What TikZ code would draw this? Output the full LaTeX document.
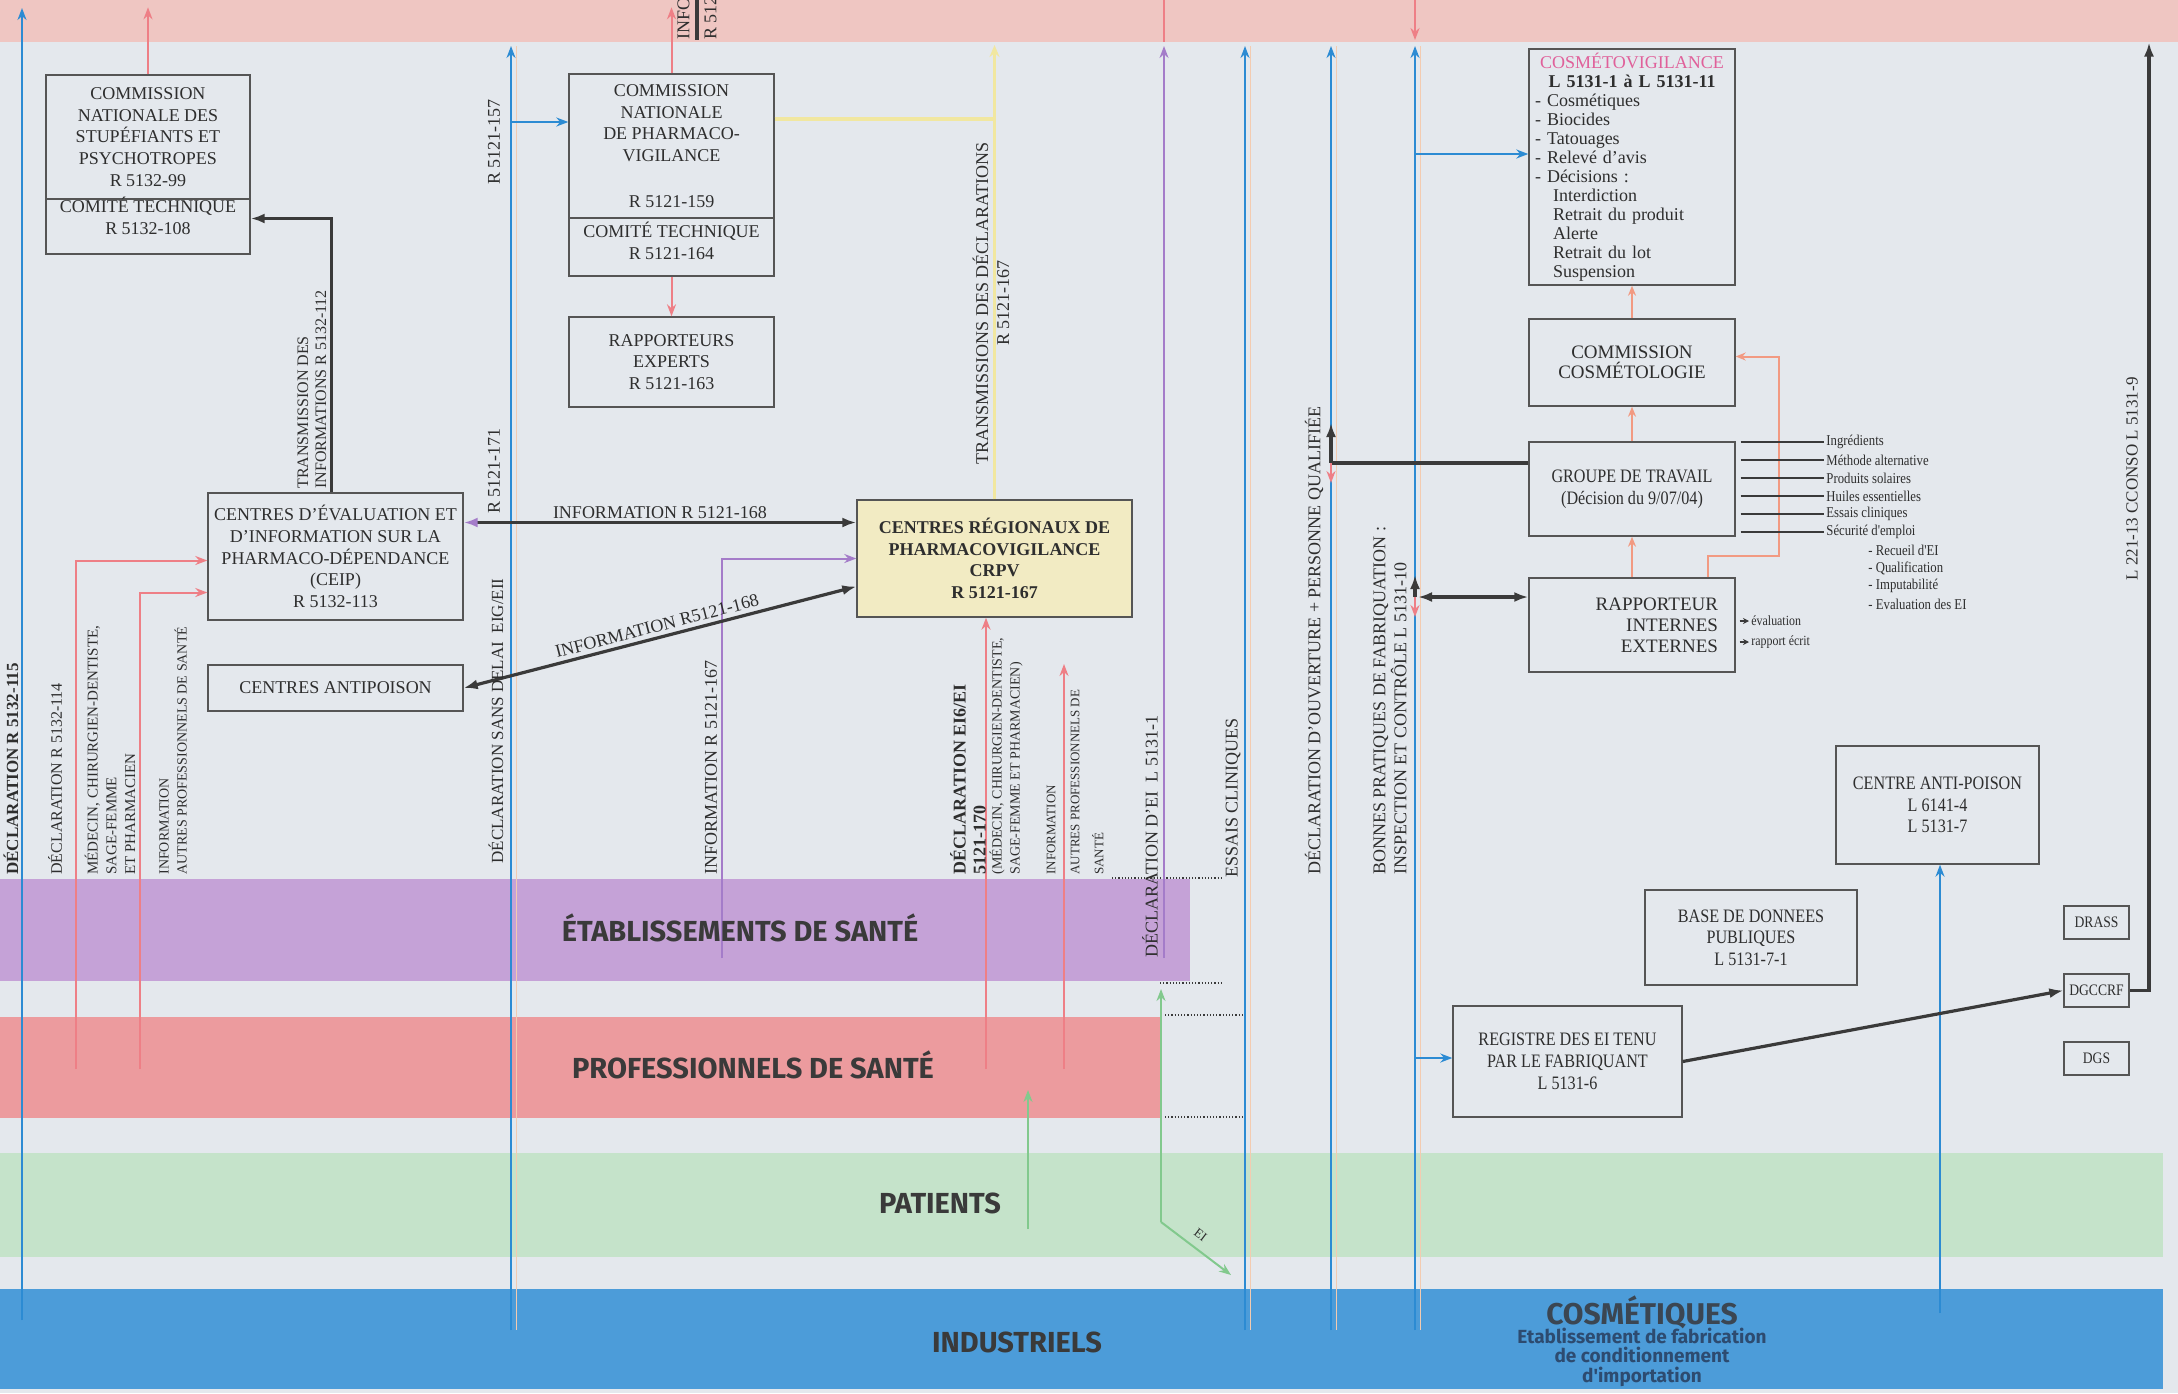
\documentclass[tikz,border=0pt]{standalone}
\usepackage{fontspec}
\setmainfont{Liberation Serif}
\newfontfamily\etroit[FakeStretch=0.85]{Liberation Serif}
\newfontfamily\bandefont{Fira Sans}
\usetikzlibrary{arrows.meta,positioning}

\definecolor{fond}{HTML}{E4E8ED}
\definecolor{rosehaut}{HTML}{EFC6C2}
\definecolor{bviolet}{HTML}{C5A2D7}
\definecolor{brouge}{HTML}{EC9B9E}
\definecolor{bvert}{HTML}{C5E3CA}
\definecolor{bbleu}{HTML}{4C9CD9}
\definecolor{cbleu}{HTML}{2C8BD3}
\definecolor{crouge}{HTML}{EE7F86}
\definecolor{corange}{HTML}{F29A82}
\definecolor{corpale}{HTML}{F3CBB0}
\definecolor{cviolet}{HTML}{A47CC9}
\definecolor{cvert}{HTML}{82C98D}
\definecolor{cjaune}{HTML}{F1E7A0}
\definecolor{cnoir}{HTML}{3A3A3A}
\definecolor{cgris}{HTML}{555555}
\definecolor{ctexte}{HTML}{2E2E2E}
\definecolor{cbande}{HTML}{3A3A3A}
\definecolor{jaunebox}{HTML}{F2EBC3}
\definecolor{crose}{HTML}{E0609A}
\definecolor{cosmtxt}{HTML}{3B4652}
\definecolor{cosmsub}{HTML}{2D4B70}

\newcommand{\taille}[2]{\fontsize{#1}{#2}\selectfont}

\tikzset{
	boite/.style={draw=cgris, line width=0.7pt, align=center, inner sep=0pt, text=ctexte, font=\taille{9}{10.8}},
	texte/.style={align=center, inner sep=0pt, text=ctexte, font=\taille{9}{10.8}},
	vlabel/.style={rotate=90, anchor=west, inner sep=0pt, align=left, text=ctexte},
	bande/.style={font=\bandefont\bfseries\taille{14.5}{16}, text=cbande, inner sep=0pt},
	liste/.style={font=\etroit\taille{7.5}{9}, text=ctexte, inner sep=1pt},
	fbleu/.style={draw=cbleu, line width=1pt, -{Stealth[length=6pt,width=4.5pt]}},
	frouge/.style={draw=crouge, line width=1pt, -{Stealth[length=6pt,width=4.5pt]}},
	forange/.style={draw=corange, line width=1pt, -{Stealth[length=5pt,width=4pt]}},
	fviolet/.style={draw=cviolet, line width=1pt, -{Stealth[length=6pt,width=4.5pt]}},
	fvert/.style={draw=cvert, line width=1pt, -{Stealth[length=6pt,width=4.5pt]}},
	fjaune/.style={draw=cjaune, line width=1.6pt, -{Stealth[length=6pt,width=5pt]}},
	fnoir/.style={draw=cnoir, line width=1.6pt, -{Latex[length=7pt,width=5pt]}},
	dnoir/.style={fnoir, {Latex[length=7pt,width=5pt]}-{Latex[length=7pt,width=5pt]}},
	tnoir/.style={draw=cnoir, line width=1.6pt},
	fin/.style={draw=cnoir, line width=0.6pt},
	pointille/.style={draw=cnoir, line width=0.6pt, densely dotted},
}

\begin{document}
\begin{tikzpicture}[x=0.5pt, y=-0.5pt]
	\useasboundingbox (0,0) rectangle (2178,1393);
	\clip (0,0) rectangle (2178,1393);

	% fond et bandes
	\fill[fond] (0,0) rectangle (2178,1393);
	\fill[rosehaut] (0,0) rectangle (2178,42);
	\fill[bviolet] (0,879) rectangle (1190,981);
	\fill[brouge] (0,1017) rectangle (1160,1118);
	\fill[bvert] (0,1153) rectangle (2163,1257);
	\fill[bbleu] (0,1289) rectangle (2163,1389);

	\foreach \y/\a/\b in {878/1112/1222, 983/1160/1222, 1015/1165/1245, 1117/1165/1245}
	{
		\draw[pointille] (\a,\y) -- (\b,\y);
	};

	% boites
	\node[boite, minimum width=102pt, minimum height=62pt] (cnsp) at (148,137) {COMMISSION\\NATIONALE DES\\STUPÉFIANTS ET\\PSYCHOTROPES\\R 5132-99};
	\node[boite, minimum width=102pt, minimum height=27.5pt] (cnspct) at (148,226.5) {};
	\node[texte] (cnspctt) at (148,216) {COMITÉ TECHNIQUE\\R 5132-108};

	\node[boite, minimum width=102.5pt, minimum height=72pt] (cnpv) at (671.5,146) {COMMISSION\\NATIONALE\\DE PHARMACO-\\VIGILANCE\\[12pt]R 5121-159};
	\node[boite, minimum width=102.5pt, minimum height=29pt] (cnpvct) at (671.5,247) {};
	\node[texte] (cnpvctt) at (671.5,241) {COMITÉ TECHNIQUE\\R 5121-164};
	\node[boite, minimum width=102.5pt, minimum height=45pt] (rapexp) at (671.5,362) {RAPPORTEURS\\EXPERTS\\R 5121-163};

	\node[boite, minimum width=127.5pt, minimum height=63.5pt] (ceip) at (335.5,556.5) {CENTRES D'ÉVALUATION ET\\D'INFORMATION SUR LA\\PHARMACO-DÉPENDANCE\\(CEIP)\\R 5132-113};
	\node[boite, minimum width=127.5pt, minimum height=23pt] (antipoison) at (335.5,688) {CENTRES ANTIPOISON};
	\node[boite, fill=jaunebox, minimum width=137.5pt, minimum height=58.5pt, font=\bfseries\taille{9}{10.8}] (crpv) at (994.5,558.5) {CENTRES RÉGIONAUX DE\\PHARMACOVIGILANCE\\CRPV\\R 5121-167};

	\node[boite, minimum width=103pt, minimum height=118pt, text width=97pt, align=left, font=\taille{9}{9.5}] (cosmeto) at (1632,167) {%
		\makebox[97pt][c]{\color{crose}COSMÉTOVIGILANCE}\\
		\makebox[97pt][c]{\textbf{L 5131-1 à L 5131-11}}\\
		- Cosmétiques\\
		- Biocides\\
		- Tatouages\\
		- Relevé d'avis\\
		- Décisions :\\
		\hspace*{9pt}Interdiction\\
		\hspace*{9pt}Retrait du produit\\
		\hspace*{9pt}Alerte\\
		\hspace*{9pt}Retrait du lot\\
		\hspace*{9pt}Suspension};
	\node[boite, minimum width=103pt, minimum height=43.5pt, font=\taille{9.5}{10}] (commcos) at (1632,362.5) {COMMISSION\\COSMÉTOLOGIE};
	\node[boite, minimum width=103pt, minimum height=47pt, font=\etroit\taille{9.5}{11}] (groupe) at (1632,489) {GROUPE DE TRAVAIL\\(Décision du 9/07/04)};
	\node[boite, minimum width=103pt, minimum height=47pt, text width=86pt, align=right, font=\taille{9.5}{10.5}] (rapint) at (1632,625) {RAPPORTEUR\hspace*{10pt}\\INTERNES\\EXTERNES};

	\node[boite, minimum width=101.5pt, minimum height=59pt, font=\etroit\taille{9.5}{10.8}] (antipois2) at (1937.5,805) {CENTRE ANTI-POISON\\L 6141-4\\L 5131-7};
	\node[boite, minimum width=106pt, minimum height=47.5pt, font=\etroit\taille{9.5}{10.8}] (bdd) at (1751,937.5) {BASE DE DONNEES\\PUBLIQUES\\L 5131-7-1};
	\node[boite, minimum width=114.5pt, minimum height=55.5pt, font=\etroit\taille{9.5}{11}] (registre) at (1567.5,1061.5) {REGISTRE DES EI TENU\\PAR LE FABRIQUANT\\L 5131-6};

	\foreach \nom/\y/\txt in {drass/922.5/DRASS, dgccrf/990.5/DGCCRF, dgs/1058.5/DGS}
	{
		\node[boite, minimum width=32.5pt, minimum height=16.5pt, font=\etroit\taille{8}{9}] (\nom) at (2096.5,\y) {\txt};
	};

	% lignes bleues
	\coordinate (b1) at (22,1320);
	\coordinate (h1) at (22,8);
	\draw[fbleu] (b1) -- (h1);
	\foreach \i/\x in {2/511, 3/1245, 4/1331, 5/1415}
	{
		\coordinate (b\i) at (\x,1330);
		\coordinate (h\i) at (\x,46);
		\draw[corpale, line width=0.5pt] (\x+5,46) -- (\x+5,1330);
		\draw[fbleu] (b\i) -- (h\i);
	};
	\coordinate (k2) at (511,122);
	\draw[fbleu] (k2) -- (k2 -| cnpv.west);
	\coordinate (k5a) at (1415,154);
	\draw[fbleu] (k5a) -- (k5a -| cosmeto.west);
	\coordinate (k5b) at (1415,1058);
	\draw[fbleu] (k5b) -- (k5b -| registre.west);
	\coordinate (b6) at (1940,1313);
	\draw[fbleu] (b6) -- (b6 |- antipois2.south);

	% lignes rouges
	\draw[frouge] (cnsp.north) -- ++(0,-67);
	\draw[frouge] (cnpv.north) -- ++(0,-66);
	\draw[frouge] (cnpvct.south) -- (rapexp.north);
	\draw[crouge, line width=1pt] (1164,0) -- (1164,42);
	\draw[frouge] (1415,0) -- (1415,40);
	\coordinate (r1) at (76,1069);
	\draw[frouge] (r1) |- ([yshift=-2pt]ceip.west);
	\coordinate (r2) at (140,1069);
	\draw[frouge] (r2) |- ([yshift=-18pt]ceip.west);
	\coordinate (r3) at (986,1069);
	\draw[frouge] (r3) -- (r3 |- crpv.south);
	\coordinate (r4) at (1064,1069);
	\coordinate (r4h) at (1064,664);
	\draw[frouge] (r4) -- (r4h);

	% cosmetologie
	\draw[forange] (commcos.north) -- (cosmeto.south);
	\draw[forange] (groupe.north) -- (commcos.south);
	\draw[forange] (rapint.north) -- (groupe.south);
	\coordinate (o1) at (1779,556);
	\draw[forange] ([xshift=38pt]rapint.north) |- (o1) |- ([yshift=3pt]commcos.east);

	% violet, vert, jaune
	\coordinate (v1) at (722,958);
	\draw[fviolet] (v1) |- (crpv.west);
	\coordinate (v2) at (1164,958);
	\coordinate (v2h) at (1164,46);
	\draw[fviolet] (v2) -- (v2h);
	\coordinate (e1) at (1028,1229);
	\draw[fvert] (e1) -- ++(0,-139);
	\coordinate (e2) at (1161,1222);
	\draw[fvert] (e2) -- ++(0,-233);
	\draw[fvert] (e2) -- ++(70,53) node[pos=0.45, sloped, above=4pt, font=\taille{6.5}{7}, text=ctexte, inner sep=0pt] (ei) {EI};
	\coordinate (j1) at ([yshift=13.5pt]cnpv.east);
	\draw[cjaune, line width=1.6pt] (j1) -- (j1 -| crpv.north);
	\draw[fjaune] (crpv.north) -- (crpv.north |- 0,45);

	% fleches noires
	\draw[fnoir] ([xshift=-2pt]ceip.north) |- ([yshift=4pt]cnspct.east);
	\coordinate (i1) at ([yshift=17pt]ceip.east);
	\draw[fnoir, {Latex[length=7pt,width=5pt,color=cviolet]}-{Latex[length=7pt,width=5pt]}] (i1) -- (i1 -| crpv.west)
		node[midway, above=1pt, font=\taille{9}{10}, text=ctexte, inner sep=0pt] (inf1) {INFORMATION R 5121-168};
	\draw[dnoir] (antipoison.east) -- ([yshift=-14pt]crpv.west)
		node[midway, sloped, above=2pt, font=\taille{9}{10}, text=ctexte, inner sep=0pt] (inf2) {INFORMATION R5121-168};
	\coordinate (g1) at (1331,463);
	\draw[tnoir] ([yshift=13pt]groupe.west) -- (g1);
	\draw[fnoir] (g1) -- ++(0,-40);
	\draw[frouge] (g1) -- ++(0,20);
	\coordinate (g2) at (1418,597);
	\draw[dnoir] (g2) -- (g2 -| rapint.west);
	\draw[fnoir] (1415,597) -- ++(0,-22);
	\draw[frouge] (1415,597) -- ++(0,20);
	\draw[fnoir] (registre.east) -- (dgccrf.west);
	\coordinate (d1) at (2149,990.5);
	\draw[fnoir] (dgccrf.east) -- (d1) -- ++(0,-948);
	\draw[tnoir] (697,0) -- (697,40);

	% liste du groupe de travail
	\foreach \y/\txt [count=\i] in {442/Ingrédients, 460/Méthode alternative, 478/Produits solaires, 496/Huiles essentielles, 514/Essais cliniques, 532/Sécurité d'emploi}
	{
		\node[liste, anchor=west] (l\i) at (1824,\y) {\txt};
		\draw[fin] (groupe.east |- l\i.west) ++(5,0) -- (l\i.west);
	};
	\foreach \y/\txt [count=\i] in {550/Recueil d'EI, 568/Qualification, 586/Imputabilité, 604/Evaluation des EI}
	{
		\node[liste, anchor=west] (s\i) at (1866,\y) {- \txt};
	};
	\node[liste, anchor=west, font=\etroit\taille{7}{8}] (eval) at (1749,621) {évaluation};
	\node[liste, anchor=west, font=\etroit\taille{7}{8}] (rapp) at (1749,642) {rapport écrit};
	\draw[fin, -{Stealth[length=3pt,width=3pt]}] (rapint.east |- eval.west) ++(4,0) -- (eval.west);
	\draw[fin, -{Stealth[length=3pt,width=3pt]}] (rapint.east |- rapp.west) ++(4,0) -- (rapp.west);

	% textes verticaux
	\node[vlabel, font=\bfseries\taille{8.5}{10}] (lab1) at (11,875) {DÉCLARATION R 5132-115};
	\node[vlabel, font=\taille{8}{9}] (lab2) at (55,875) {DÉCLARATION R 5132-114};
	\node[vlabel, font=\taille{7.5}{9.4}] (lab3) at (110,875) {MÉDECIN, CHIRURGIEN-DENTISTE,\\SAGE-FEMME\\ET PHARMACIEN};
	\node[vlabel, font=\taille{7}{9}] (lab4) at (173,875) {INFORMATION\\AUTRES PROFESSIONNELS DE SANTÉ};
	\node[vlabel, font=\taille{8}{9}] (lab5) at (312,489) {TRANSMISSION DES\\INFORMATIONS R 5132-112};
	\node[vlabel, font=\taille{9}{10}] (lab6) at (494,185) {R 5121-157};
	\node[vlabel, font=\taille{9}{10}] (lab7) at (494,514) {R 5121-171};
	\node[vlabel, font=\taille{8.5}{10}] (lab8) at (496,864) {DÉCLARATION SANS DELAI\enspace EIG/EII};
	\node[vlabel, font=\taille{9}{10}] (lab9) at (711,875) {INFORMATION R 5121-167};
	\node[vlabel, anchor=center, align=center, font=\taille{9}{10.5}] (lab10) at (991,303) {TRANSMISSIONS DES DÉCLARATIONS\\R 5121-167};
	\node[vlabel, font=\bfseries\taille{9}{10}] (lab11) at (968,875) {DÉCLARATION EI6/EI\\5121-170};
	\node[vlabel, font=\taille{7}{9}] (lab12) at (1006,875) {(MÉDECIN, CHIRURGIEN-DENTISTE,\\SAGE-FEMME ET PHARMACIEN)};
	\node[vlabel, font=\taille{6.5}{12}] (lab13) at (1075,875) {INFORMATION\\AUTRES PROFESSIONNELS DE\\SANTÉ};
	\node[vlabel, font=\taille{9}{10}] (lab14) at (1150,958) {DÉCLARATION D'EI\enspace L 5131-1};
	\node[vlabel, font=\taille{9}{10}] (lab15) at (1233,878) {ESSAIS CLINIQUES};
	\node[vlabel, font=\taille{9}{10}] (lab16) at (1314,875) {DÉCLARATION D'OUVERTURE + PERSONNE QUALIFIÉE};
	\node[vlabel, font=\taille{9}{10.5}] (lab17) at (1390,875) {BONNES PRATIQUES DE FABRIQUATION :\\INSPECTION ET CONTRÔLE L 5131-10};
	\node[vlabel, anchor=center, font=\taille{8.5}{10}] (lab18) at (2132,479) {L 221-13 CCONSO L 5131-9};
	\node[vlabel, font=\taille{9}{13.5}] (lab19) at (697,40) {INFORMATION\\R 5121};

	% noms des bandes
	\node[bande] (etab) at (740,928) {ÉTABLISSEMENTS DE SANTÉ};
	\node[bande] (prof) at (753,1065) {PROFESSIONNELS DE SANTÉ};
	\node[bande] (pat) at (940,1203) {PATIENTS};
	\node[bande] (indus) at (1017,1342) {INDUSTRIELS};
	\node[bande, font=\bandefont\bfseries\taille{15}{16}, text=cosmtxt] (cosm) at (1642,1312) {COSMÉTIQUES};
	\node[bande, align=center, font=\bandefont\bfseries\taille{9.5}{9.8}, text=cosmsub] (cosmsub) at (1642,1357) {Etablissement de fabrication\\de conditionnement\\d'importation};
\end{tikzpicture}
\end{document}
